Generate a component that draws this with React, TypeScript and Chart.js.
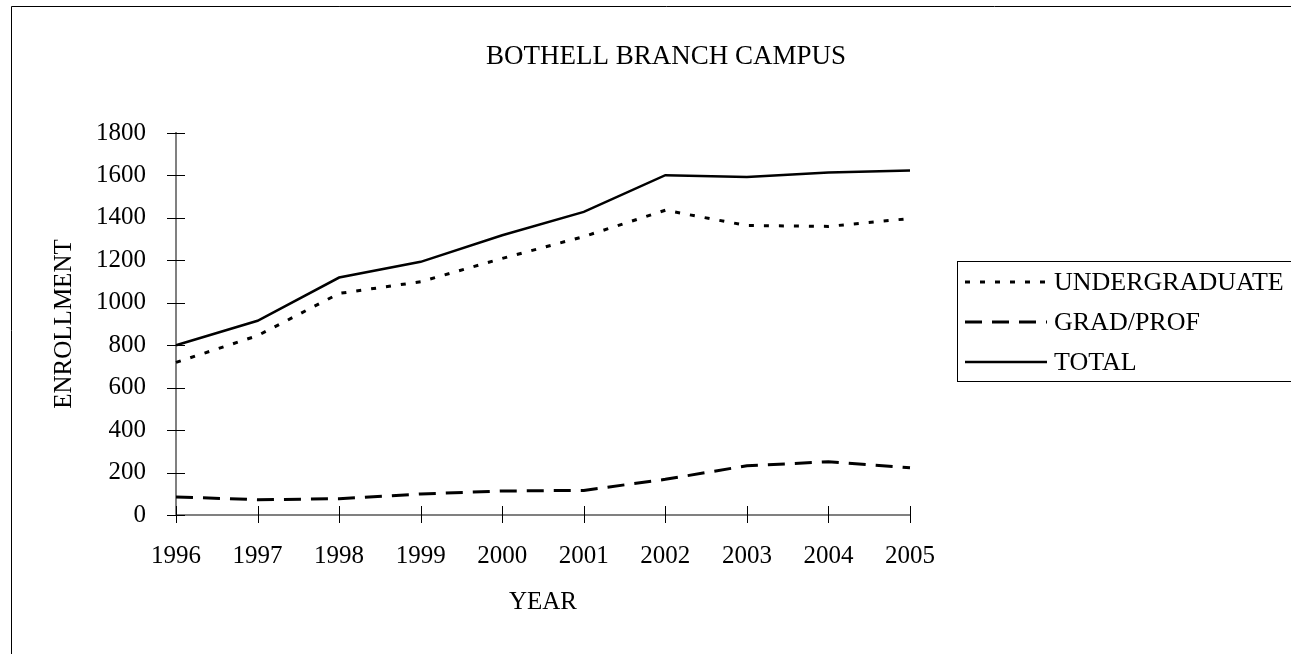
import { useEffect, useRef } from "react";
import { Chart, registerables } from "chart.js";

Chart.register(...registerables);

const FONT = '"Liberation Serif", "Times New Roman", Times, serif';

const chartTitle = "BOTHELL BRANCH CAMPUS";
const xTitle = "YEAR";
const yTitle = "ENROLLMENT";
const years = ["1996", "1997", "1998", "1999", "2000", "2001", "2002", "2003", "2004", "2005"];
const undergraduate = [719, 845, 1044, 1099, 1209, 1312, 1436, 1364, 1360, 1397];
const gradProf = [85, 72, 77, 99, 113, 116, 168, 232, 251, 223];
const total = [800, 915, 1119, 1193, 1318, 1428, 1601, 1593, 1614, 1623];
const seriesLabels = ["UNDERGRADUATE", "GRAD/PROF", "TOTAL"];
const yMin = 0;
const yMax = 1800;
const yStep = 200;

const CANVAS_W = 1321;
const CANVAS_H = 654;

const framePlugin = {
  id: "frame",
  beforeDraw(chart: any) {
    const ctx = chart.ctx;
    ctx.save();
    ctx.fillStyle = "#ffffff";
    ctx.fillRect(0, 0, chart.width, chart.height);
    ctx.strokeStyle = "#000000";
    ctx.lineWidth = 1;
    ctx.beginPath();
    ctx.moveTo(11.5, chart.height + 2);
    ctx.lineTo(11.5, 6.5);
    ctx.lineTo(chart.width + 2, 6.5);
    ctx.stroke();
    // chart title, centred on the whole (cropped) chart frame
    ctx.fillStyle = "#000000";
    ctx.font = `27px ${FONT}`;
    ctx.textAlign = "center";
    ctx.textBaseline = "middle";
    ctx.fillText(chartTitle, (11 + chart.width) / 2, 57);
    ctx.restore();
  },
};

const tickPlugin = {
  id: "crossTicks",
  afterDraw(chart: any) {
    const ctx = chart.ctx;
    const xs = chart.scales.x;
    const ys = chart.scales.y;
    const area = chart.chartArea;
    ctx.save();
    ctx.strokeStyle = "#000000";
    ctx.lineWidth = 1;
    ctx.beginPath();
    ys.ticks.forEach((_t: any, i: number) => {
      const y = Math.round(ys.getPixelForTick(i)) + 0.5;
      ctx.moveTo(area.left - 9, y);
      ctx.lineTo(area.left + 9, y);
    });
    xs.ticks.forEach((_t: any, i: number) => {
      const x = Math.round(xs.getPixelForTick(i)) + 0.5;
      ctx.moveTo(x, area.bottom - 9);
      ctx.lineTo(x, area.bottom + 8);
    });
    ctx.stroke();
    ctx.restore();
  },
};

const legendPlugin = {
  id: "boxLegend",
  afterDraw(chart: any) {
    const ctx = chart.ctx;
    const boxL = 957.5;
    const boxT = 261.5;
    const boxB = 381.5;
    ctx.save();
    ctx.strokeStyle = "#000000";
    ctx.lineWidth = 1;
    ctx.strokeRect(boxL, boxT, 420, boxB - boxT);
    const rows = [282, 322, 362];
    chart.data.datasets.forEach((ds: any, i: number) => {
      const y = rows[i];
      ctx.beginPath();
      ctx.setLineDash(ds.borderDash || []);
      ctx.lineWidth = ds.borderWidth;
      ctx.strokeStyle = ds.borderColor;
      ctx.moveTo(965, y);
      ctx.lineTo(1047, y);
      ctx.stroke();
      ctx.setLineDash([]);
      ctx.fillStyle = "#000000";
      ctx.font = `26px ${FONT}`;
      ctx.textAlign = "left";
      ctx.textBaseline = "middle";
      ctx.fillText(ds.label, 1054, y + 1);
    });
    ctx.restore();
  },
};

export default function App() {
  const ref = useRef<HTMLCanvasElement | null>(null);

  useEffect(() => {
    if (!ref.current) return;
    const chart = new Chart(ref.current, {
      type: "line",
      data: {
        labels: years,
        datasets: [
          {
            label: seriesLabels[0],
            data: undergraduate,
            borderColor: "#000000",
            borderWidth: 3,
            borderDash: [5, 10],
            pointRadius: 0,
            fill: false,
            tension: 0,
          },
          {
            label: seriesLabels[1],
            data: gradProf,
            borderColor: "#000000",
            borderWidth: 3,
            borderDash: [17, 10],
            pointRadius: 0,
            fill: false,
            tension: 0,
          },
          {
            label: seriesLabels[2],
            data: total,
            borderColor: "#000000",
            borderWidth: 2.5,
            pointRadius: 0,
            fill: false,
            tension: 0,
          },
        ],
      },
      options: {
        responsive: false,
        animation: false,
        layout: { padding: { left: 11, right: CANVAS_W - 910, top: 133, bottom: 0 } },
        plugins: {
          legend: { display: false },
          tooltip: { enabled: false },
          title: { display: false },
        },
        scales: {
          x: {
            type: "category",
            offset: false,
            grid: { display: false, drawTicks: false },
            border: { display: true, color: "#808080", width: 2 },
            ticks: {
              color: "#000000",
              font: { family: FONT, size: 25 },
              padding: 26,
              maxRotation: 0,
              autoSkip: false,
            },
            title: {
              display: true,
              text: xTitle,
              color: "#000000",
              font: { family: FONT, size: 25 },
              padding: { top: 0, bottom: 37 },
            },
            afterFit: (s: any) => {
              s.height = CANVAS_H - 515;
            },
          },
          y: {
            min: yMin,
            max: yMax,
            grid: { display: false, drawTicks: false },
            border: { display: true, color: "#808080", width: 2 },
            ticks: {
              stepSize: yStep,
              color: "#000000",
              font: { family: FONT, size: 25 },
              padding: 30,
              callback: (v: any) => String(v),
            },
            title: {
              display: true,
              text: yTitle,
              color: "#000000",
              font: { family: FONT, size: 25 },
              padding: { top: 38, bottom: 0 },
            },
            afterFit: (s: any) => {
              s.width = 176 - 11;
            },
          },
        },
      },
      plugins: [framePlugin, tickPlugin, legendPlugin],
    });
    return () => chart.destroy();
  }, []);

  return (
    <div
      style={{
        position: "fixed",
        left: 0,
        top: 0,
        width: 1291,
        height: 654,
        overflow: "hidden",
        background: "#ffffff",
      }}
    >
      <canvas
        ref={ref}
        width={CANVAS_W}
        height={CANVAS_H}
        style={{ display: "block", width: CANVAS_W, height: CANVAS_H }}
      />
    </div>
  );
}
